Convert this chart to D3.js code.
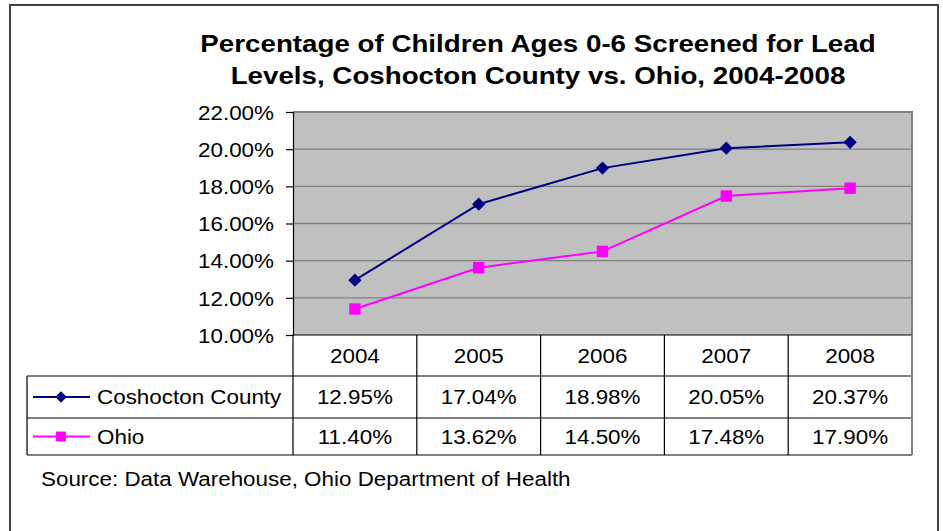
<!DOCTYPE html>
<html>
<head>
<meta charset="utf-8">
<script src="https://cdn.jsdelivr.net/npm/d3@7"></script>
<style>
  html, body { margin: 0; padding: 0; background: #fff; }
  svg { display: block; }
  text { font-family: "Liberation Sans", Arial, sans-serif; fill: #000; }
</style>
</head>
<body>
<svg id="chart" width="943" height="531"></svg>
<script>
// Screening rates, children ages 0-6
const years = ["2004", "2005", "2006", "2007", "2008"];
const coshocton = [0.1295, 0.1704, 0.1898, 0.2005, 0.2037];
const ohio = [0.1140, 0.1362, 0.1450, 0.1748, 0.1790];
const seriesNames = ["Coshocton County", "Ohio"];
const yTicks = [0.10, 0.12, 0.14, 0.16, 0.18, 0.20, 0.22];
const titleLines = [
  "Percentage of Children Ages 0-6 Screened for Lead",
  "Levels, Coshocton County vs. Ohio, 2004-2008"
];
const sourceNote = "Source: Data Warehouse, Ohio Department of Health";

const svg = d3.select("#chart");
const W = 943, H = 531;

// Frame geometry
const plot = { left: 293, right: 912, top: 112, bottom: 335 };
const tableLeft = 27;
const rowEdges = [335, 376, 418, 455];

const x = d3.scaleBand().domain(years).range([plot.left, plot.right]).padding(0);
const y = d3.scaleLinear().domain([0.10, 0.22]).range([plot.bottom, plot.top]);
const pct = d3.format(".2%");

// widen glyphs slightly, as the chart's font runs wide
function widen(sel, k) {
  sel.each(function () {
    const w = this.getComputedTextLength();
    d3.select(this).attr("textLength", w * k).attr("lengthAdjust", "spacingAndGlyphs");
  });
}

// Outer chart border
svg.append("rect")
  .attr("x", 10).attr("y", 5).attr("width", 928).attr("height", H + 10)
  .attr("fill", "#fff").attr("stroke", "#404040").attr("stroke-width", 2);

// Title
const title = svg.append("g");
title.selectAll("text").data(titleLines).join("text")
  .attr("x", 538).attr("y", (d, i) => 52 + i * 32)
  .attr("text-anchor", "middle")
  .style("font-size", "24px").style("font-weight", "bold")
  .text(d => d);
widen(title.selectAll("text"), 1.155);

// Plot area
svg.append("rect")
  .attr("x", plot.left).attr("y", plot.top)
  .attr("width", plot.right - plot.left).attr("height", plot.bottom - plot.top)
  .attr("fill", "#C0C0C0");

// Gridlines
svg.append("g").selectAll("line").data(yTicks.slice(1, -1)).join("line")
  .attr("x1", plot.left).attr("x2", plot.right)
  .attr("y1", d => y(d)).attr("y2", d => y(d))
  .attr("stroke", "#808080").attr("stroke-width", 1.3);

// Plot border (top and right)
svg.append("path")
  .attr("d", `M${plot.left},${plot.top}H${plot.right}V${plot.bottom}`)
  .attr("fill", "none").attr("stroke", "#808080").attr("stroke-width", 2);

// Y axis
const yAxis = svg.append("g")
  .attr("transform", `translate(${plot.left},0)`)
  .call(d3.axisLeft(y).tickValues(yTicks).tickFormat(pct).tickSize(7).tickPadding(12));
yAxis.select(".domain").attr("stroke", "#000").attr("stroke-width", 1.2);
yAxis.selectAll(".tick line").attr("stroke", "#000").attr("stroke-width", 1.2);
yAxis.selectAll(".tick text")
  .style("font-size", "20px").attr("fill", "#000")
  .attr("font-family", null).attr("dy", "0.36em");
widen(yAxis.selectAll(".tick text"), 1.12);

// Bottom axis line
svg.append("line")
  .attr("x1", plot.left).attr("x2", plot.right)
  .attr("y1", plot.bottom).attr("y2", plot.bottom)
  .attr("stroke", "#000").attr("stroke-width", 1.2);

// Series
const line = d3.line().x((d, i) => x(years[i]) + x.bandwidth() / 2).y(d => y(d));
const series = [
  { name: seriesNames[0], values: coshocton, color: "#000080", symbol: d3.symbolSquare, rotate: 45, size: 88 },
  { name: seriesNames[1], values: ohio, color: "#FF00FF", symbol: d3.symbolSquare, rotate: 0, size: 130 }
];

function marker(g, s, scale) {
  g.append("path")
    .attr("d", d3.symbol().type(s.symbol).size(s.size * (scale || 1))())
    .attr("transform", `rotate(${s.rotate})`)
    .attr("fill", s.color);
}

series.forEach(s => {
  svg.append("path")
    .attr("d", line(s.values))
    .attr("fill", "none").attr("stroke", s.color).attr("stroke-width", 2);
  s.values.forEach((v, i) => {
    const g = svg.append("g")
      .attr("transform", `translate(${x(years[i]) + x.bandwidth() / 2},${y(v)})`);
    marker(g, s);
  });
});

// Data table
const grid = svg.append("g").attr("stroke", "#000").attr("stroke-width", 1.2);
// horizontal rules
grid.append("line").attr("x1", plot.left).attr("x2", plot.right)
  .attr("y1", rowEdges[1]).attr("y2", rowEdges[1]);
grid.append("line").attr("x1", tableLeft).attr("x2", plot.left)
  .attr("y1", rowEdges[1]).attr("y2", rowEdges[1]);
grid.append("line").attr("x1", tableLeft).attr("x2", plot.right)
  .attr("y1", rowEdges[2]).attr("y2", rowEdges[2]);
grid.append("line").attr("x1", tableLeft).attr("x2", plot.right)
  .attr("y1", rowEdges[3]).attr("y2", rowEdges[3]);
// vertical rules
grid.append("line").attr("x1", tableLeft).attr("x2", tableLeft)
  .attr("y1", rowEdges[1]).attr("y2", rowEdges[3]);
grid.selectAll("line.col").data(years.slice(1)).join("line")
  .attr("class", "col")
  .attr("x1", d => x(d)).attr("x2", d => x(d))
  .attr("y1", rowEdges[0]).attr("y2", rowEdges[3]);
grid.append("line").attr("x1", plot.left).attr("x2", plot.left)
  .attr("y1", rowEdges[0]).attr("y2", rowEdges[3]);
svg.append("line").attr("x1", plot.right).attr("x2", plot.right)
  .attr("y1", rowEdges[0]).attr("y2", rowEdges[3])
  .attr("stroke", "#808080").attr("stroke-width", 2);

// header years
const hdr = svg.append("g").selectAll("text").data(years).join("text")
  .attr("x", d => x(d) + x.bandwidth() / 2)
  .attr("y", (rowEdges[0] + rowEdges[1]) / 2)
  .attr("dy", "0.36em").attr("text-anchor", "middle")
  .style("font-size", "20px").text(d => d);
widen(hdr, 1.12);

// value rows with legend keys
series.forEach((s, r) => {
  const cy = (rowEdges[r + 1] + rowEdges[r + 2]) / 2;
  const cells = svg.append("g").selectAll("text").data(s.values).join("text")
    .attr("x", (d, i) => x(years[i]) + x.bandwidth() / 2)
    .attr("y", cy).attr("dy", "0.36em").attr("text-anchor", "middle")
    .style("font-size", "20px").text(d => pct(d));
  widen(cells, 1.12);

  svg.append("line").attr("x1", 33).attr("x2", 90).attr("y1", cy).attr("y2", cy)
    .attr("stroke", s.color).attr("stroke-width", 2);
  const g = svg.append("g").attr("transform", `translate(61,${cy})`);
  marker(g, s, 0.75);
  const lbl = svg.append("text")
    .attr("x", 97).attr("y", cy).attr("dy", "0.36em")
    .style("font-size", "20px").text(s.name);
  widen(lbl, 1.12);
});

// Source note
const src = svg.append("text")
  .attr("x", 41).attr("y", 486)
  .style("font-size", "20px").text(sourceNote);
widen(src, 1.12);
</script>
</body>
</html>
